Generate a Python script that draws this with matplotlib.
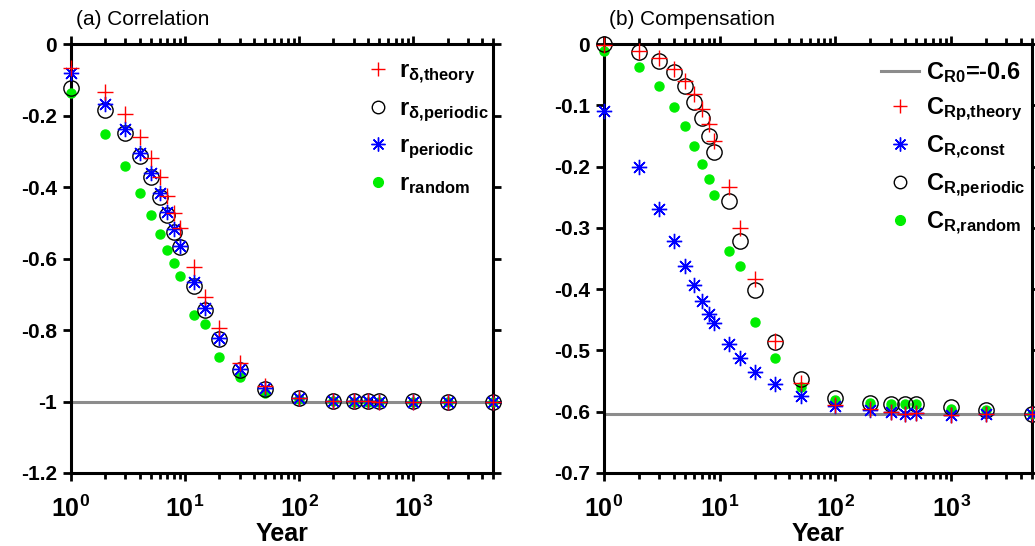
import matplotlib
matplotlib.use('Agg')
import matplotlib.pyplot as plt
from matplotlib.ticker import LogLocator, FixedLocator, NullFormatter
from matplotlib.lines import Line2D

plt.rcParams['font.family'] = ['Liberation Sans', 'DejaVu Sans']
plt.rcParams['mathtext.fontset'] = 'custom'
plt.rcParams['mathtext.rm'] = 'Liberation Sans'
plt.rcParams['mathtext.it'] = 'Liberation Sans:italic'
plt.rcParams['mathtext.bf'] = 'Liberation Sans:bold'
plt.rcParams['axes.unicode_minus'] = False

# ---- dados ----
anos = [1, 2, 3, 4, 5, 6, 7, 8, 9, 12, 15, 20, 30, 50, 100, 200, 300, 400, 500, 1000, 2000, 5000]

# (a) correlacao
r_delta_theory = [-0.068, -0.133, -0.197, -0.259, -0.318, -0.371, -0.424, -0.472, -0.515, -0.625, -0.707,
                  -0.795, -0.893, -0.957, -0.989, -0.998, -0.999, -0.999, -1.0, -1.0, -1.0, -1.0]
r_delta_periodic = [-0.122, -0.185, -0.250, -0.313, -0.373, -0.429, -0.479, -0.525, -0.567, -0.676, -0.744,
                    -0.825, -0.912, -0.966, -0.991, -0.998, -0.999, -0.999, -0.999, -0.999, -1.0, -1.0]
r_periodic = [-0.082, -0.168, -0.239, -0.304, -0.362, -0.418, -0.469, -0.518, -0.565, -0.667, -0.739,
              -0.822, -0.910, -0.963, -0.990, -0.998, -0.999, -0.999, -1.0, -1.0, -1.0, -1.0]
r_random = [-0.138, -0.253, -0.341, -0.417, -0.479, -0.531, -0.576, -0.613, -0.648, -0.758, -0.783,
            -0.875, -0.932, -0.977, -0.994, -0.999, -1.0, -1.0, -1.0, -1.0, -1.0, -1.0]
r_ref = -1.0

# (b) compensacao
c_rp_theory = [-0.002, -0.011, -0.023, -0.041, -0.061, -0.082, -0.106, -0.130, -0.159, -0.234, -0.301,
               -0.384, -0.485, -0.553, -0.589, -0.595, -0.601, -0.603, -0.602, -0.605, -0.603, -0.604]
c_r_const = [-0.109, -0.200, -0.270, -0.322, -0.363, -0.394, -0.420, -0.440, -0.455, -0.490, -0.512,
             -0.535, -0.555, -0.574, -0.590, -0.597, -0.600, -0.603, -0.602, -0.605, -0.604, -0.604]
c_r_periodic = [0.0, -0.0125, -0.027, -0.046, -0.069, -0.094, -0.121, -0.150, -0.177, -0.256, -0.321,
                -0.401, -0.487, -0.547, -0.578, -0.585, -0.587, -0.588, -0.587, -0.593, -0.598, -0.603]
c_r_random = [-0.011, -0.037, -0.069, -0.102, -0.134, -0.166, -0.195, -0.221, -0.246, -0.337, -0.362,
              -0.453, -0.513, -0.560, -0.581, -0.586, -0.587, -0.588, -0.587, -0.595, -0.598, -0.603]
c_r0 = -0.604

yticks_a = [-1.2, -1.0, -0.8, -0.6, -0.4, -0.2, 0.0]
ylabels_a = ['-1.2', '-1', '-0.8', '-0.6', '-0.4', '-0.2', '0']
yticks_b = [-0.7, -0.6, -0.5, -0.4, -0.3, -0.2, -0.1, 0.0]
ylabels_b = ['-0.7', '-0.6', '-0.5', '-0.4', '-0.3', '-0.2', '-0.1', '0']
xticks = [1, 10, 100, 1000]
xlabels = [r'$\mathbf{10^{0}}$', r'$\mathbf{10^{1}}$', r'$\mathbf{10^{2}}$', r'$\mathbf{10^{3}}$']

VERDE = '#00ee00'
CINZA = '#8c8c8c'
ESTRELA = (8, 2, 0)


def estilo_eixo(ax, yticks, ylabels, ylim):
    ax.set_xscale('log')
    ax.set_xlim(1, 5000)
    ax.set_ylim(*ylim)
    ax.xaxis.set_major_locator(FixedLocator(xticks))
    ax.set_xticklabels(xlabels)
    ax.xaxis.set_minor_locator(LogLocator(base=10, subs=range(2, 10), numticks=20))
    ax.xaxis.set_minor_formatter(NullFormatter())
    ax.set_yticks(yticks)
    ax.set_yticklabels(ylabels)
    for s in ax.spines.values():
        s.set_linewidth(2.2)
    ax.tick_params(which='both', direction='out', top=True, right=True, width=2)
    ax.tick_params(which='major', length=6)
    ax.tick_params(which='minor', length=4)
    ax.tick_params(axis='y', labelsize=15, pad=4)
    ax.tick_params(axis='x', which='major', labelsize=18, pad=10)
    for t in ax.get_xticklabels() + ax.get_yticklabels():
        t.set_fontweight('bold')
    ax.set_xlabel('Year', fontsize=18, fontweight='bold', labelpad=0)


fig = plt.figure(figsize=(10.35, 5.46), dpi=100)
ax1 = fig.add_axes([0.0686, 0.1337, 0.4077, 0.7857])
ax2 = fig.add_axes([0.5836, 0.1337, 0.4135, 0.7857])

# ---- (a) ----
ax1.axhline(r_ref, color=CINZA, lw=2.2, zorder=1)
ax1.plot(anos, r_random, 'o', color=VERDE, ms=6.5, mec=VERDE, clip_on=False, zorder=3)
ax1.plot(anos, r_delta_periodic, 'o', mfc='none', mec='black', ms=11, mew=1, clip_on=False, zorder=4)
ax1.plot(anos, r_periodic, ls='none', marker=ESTRELA, color='blue', ms=11, mew=1, clip_on=False, zorder=5)
ax1.plot(anos, r_delta_theory, '+', color='red', ms=12, mew=1, clip_on=False, zorder=6)
estilo_eixo(ax1, yticks_a, ylabels_a, (-1.2, 0))
ax1.text(0.012, 1.035, '(a) Correlation', transform=ax1.transAxes, fontsize=15, va='bottom')

h1 = [Line2D([], [], ls='none', marker='+', color='red', ms=10, mew=1),
      Line2D([], [], ls='none', marker='o', mfc='none', mec='black', ms=9, mew=1),
      Line2D([], [], ls='none', marker=ESTRELA, color='blue', ms=10, mew=1),
      Line2D([], [], ls='none', marker='o', color=VERDE, ms=7)]
l1 = [r'$\mathbf{r_{\delta{,}theory}}$', r'$\mathbf{r_{\delta{,}periodic}}$',
      r'$\mathbf{r_{periodic}}$', r'$\mathbf{r_{random}}$']
ax1.legend(h1, l1, loc='upper right', frameon=False, fontsize=17, handlelength=1.0,
           handletextpad=0.4, labelspacing=0.5, borderaxespad=0.1,
           bbox_to_anchor=(1.019, 0.99))

# ---- (b) ----
ax2.axhline(c_r0, color=CINZA, lw=2.2, zorder=1)
ax2.plot(anos, c_r_random, 'o', color=VERDE, ms=6.5, mec=VERDE, clip_on=False, zorder=3)
ax2.plot(anos, c_r_periodic, 'o', mfc='none', mec='black', ms=11, mew=1, clip_on=False, zorder=4)
ax2.plot(anos, c_r_const, ls='none', marker=ESTRELA, color='blue', ms=11, mew=1, clip_on=False, zorder=5)
ax2.plot(anos, c_rp_theory, '+', color='red', ms=12, mew=1, clip_on=False, zorder=6)
estilo_eixo(ax2, yticks_b, ylabels_b, (-0.7, 0))
ax2.text(0.012, 1.035, '(b) Compensation', transform=ax2.transAxes, fontsize=15, va='bottom')

h2 = [Line2D([], [], color=CINZA, lw=2.2),
      Line2D([], [], ls='none', marker='+', color='red', ms=10, mew=1),
      Line2D([], [], ls='none', marker=ESTRELA, color='blue', ms=10, mew=1),
      Line2D([], [], ls='none', marker='o', mfc='none', mec='black', ms=9, mew=1),
      Line2D([], [], ls='none', marker='o', color=VERDE, ms=7)]
l2 = [r'$\mathbf{C_{R0}}$' + '=-0.6', r'$\mathbf{C_{Rp{,}theory}}$', r'$\mathbf{C_{R{,}const}}$',
      r'$\mathbf{C_{R{,}periodic}}$', r'$\mathbf{C_{R{,}random}}$']
leg2 = ax2.legend(h2, l2, loc='upper right', frameon=False, fontsize=17, handlelength=1.6,
                  handletextpad=0.3, labelspacing=0.45, borderaxespad=0.1,
                  bbox_to_anchor=(1.013, 0.99))
for t in leg2.get_texts():
    t.set_fontweight('bold')

fig.savefig('out.png', dpi=100)
